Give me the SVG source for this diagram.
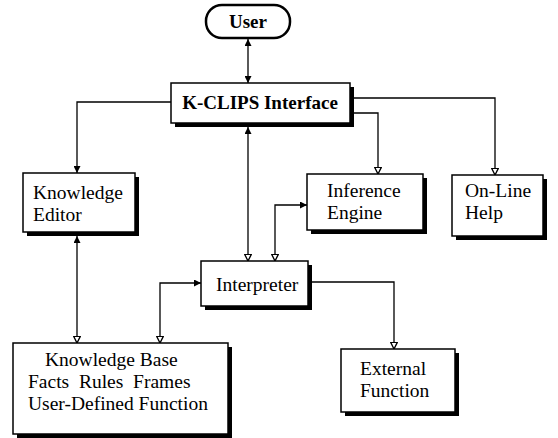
<svg xmlns="http://www.w3.org/2000/svg" width="558" height="438" viewBox="0 0 558 438">
<style>
.box{fill:#fff;stroke:#000;stroke-width:1.5}
.shadow{fill:#000}
.t{font-family:"Liberation Serif","Times New Roman",serif;font-size:19.5px;fill:#000}
.b{font-weight:bold;font-size:19px}
.c{fill:none;stroke:#000;stroke-width:1.3}
</style>
<defs>
<marker id="af" viewBox="0 0 10 10" refX="10" refY="5" markerWidth="7" markerHeight="7" markerUnits="userSpaceOnUse" orient="auto-start-reverse">
<path d="M0,0 L10,5 L0,10 Z" fill="#000"/>
</marker>
<marker id="ao" viewBox="0 0 12 12" refX="11" refY="6" markerWidth="8" markerHeight="8" markerUnits="userSpaceOnUse" orient="auto-start-reverse">
<path d="M1,1 L11,6 L1,11 Z" fill="#fff" stroke="#000" stroke-width="2"/>
</marker>
</defs>
<rect width="558" height="438" fill="#fff"/>
<g id="connectors">
<line class="c" x1="248" y1="39" x2="248" y2="83" stroke-width="1.8" marker-start="url(#af)" marker-end="url(#af)"/>
<path class="c" d="M171,102 H77 V173" marker-end="url(#af)"/>
<path class="c" d="M354,98 H495 V175" marker-end="url(#ao)"/>
<path class="c" d="M354,113 H378 V174" marker-end="url(#ao)"/>
<line class="c" x1="248" y1="127" x2="248" y2="261" marker-start="url(#af)" marker-end="url(#ao)"/>
<path class="c" d="M307,205 H275 V261" marker-start="url(#af)" marker-end="url(#ao)"/>
<line class="c" x1="77" y1="236" x2="77" y2="343" marker-start="url(#af)" marker-end="url(#ao)"/>
<path class="c" d="M201,283 H160 V343" marker-start="url(#af)" marker-end="url(#ao)"/>
<path class="c" d="M312,282 H394 V349" marker-end="url(#ao)"/>
</g>
<g id="user">
<rect x="206" y="5" width="84" height="33" rx="16" fill="#fff" stroke="#000" stroke-width="2.5"/>
<text class="t b" x="248" y="28" text-anchor="middle">User</text>
</g>
<g id="kclips">
<rect class="shadow" x="175" y="87" width="179" height="40"/>
<rect class="box" x="171" y="83" width="179" height="40"/>
<text class="t b" x="260" y="109" text-anchor="middle">K-CLIPS Interface</text>
</g>
<g id="knowledge-editor">
<rect class="shadow" x="27" y="177" width="112" height="59"/>
<rect class="box" x="23" y="173" width="112" height="59"/>
<text class="t" x="33" y="199">Knowledge</text>
<text class="t" x="33" y="221">Editor</text>
</g>
<g id="inference-engine">
<rect class="shadow" x="311" y="178" width="116" height="56"/>
<rect class="box" x="307" y="174" width="116" height="56"/>
<text class="t" x="327" y="197">Inference</text>
<text class="t" x="327" y="219">Engine</text>
</g>
<g id="online-help">
<rect class="shadow" x="456" y="179" width="91" height="61"/>
<rect class="box" x="452" y="175" width="91" height="61"/>
<text class="t" x="465" y="197">On-Line</text>
<text class="t" x="465" y="219">Help</text>
</g>
<g id="interpreter">
<rect class="shadow" x="205" y="265" width="107" height="45"/>
<rect class="box" x="201" y="261" width="107" height="45"/>
<text class="t" x="216" y="291">Interpreter</text>
</g>
<g id="knowledge-base">
<rect class="shadow" x="17" y="347" width="215" height="91"/>
<rect class="box" x="13" y="343" width="215" height="91"/>
<text class="t" x="45" y="366">Knowledge Base</text>
<text class="t" x="28" y="388" xml:space="preserve">Facts  Rules  Frames</text>
<text class="t" x="28" y="410">User-Defined Function</text>
</g>
<g id="external-function">
<rect class="shadow" x="345" y="353" width="114" height="63"/>
<rect class="box" x="341" y="349" width="114" height="63"/>
<text class="t" x="360" y="375">External</text>
<text class="t" x="360" y="397">Function</text>
</g>
</svg>
